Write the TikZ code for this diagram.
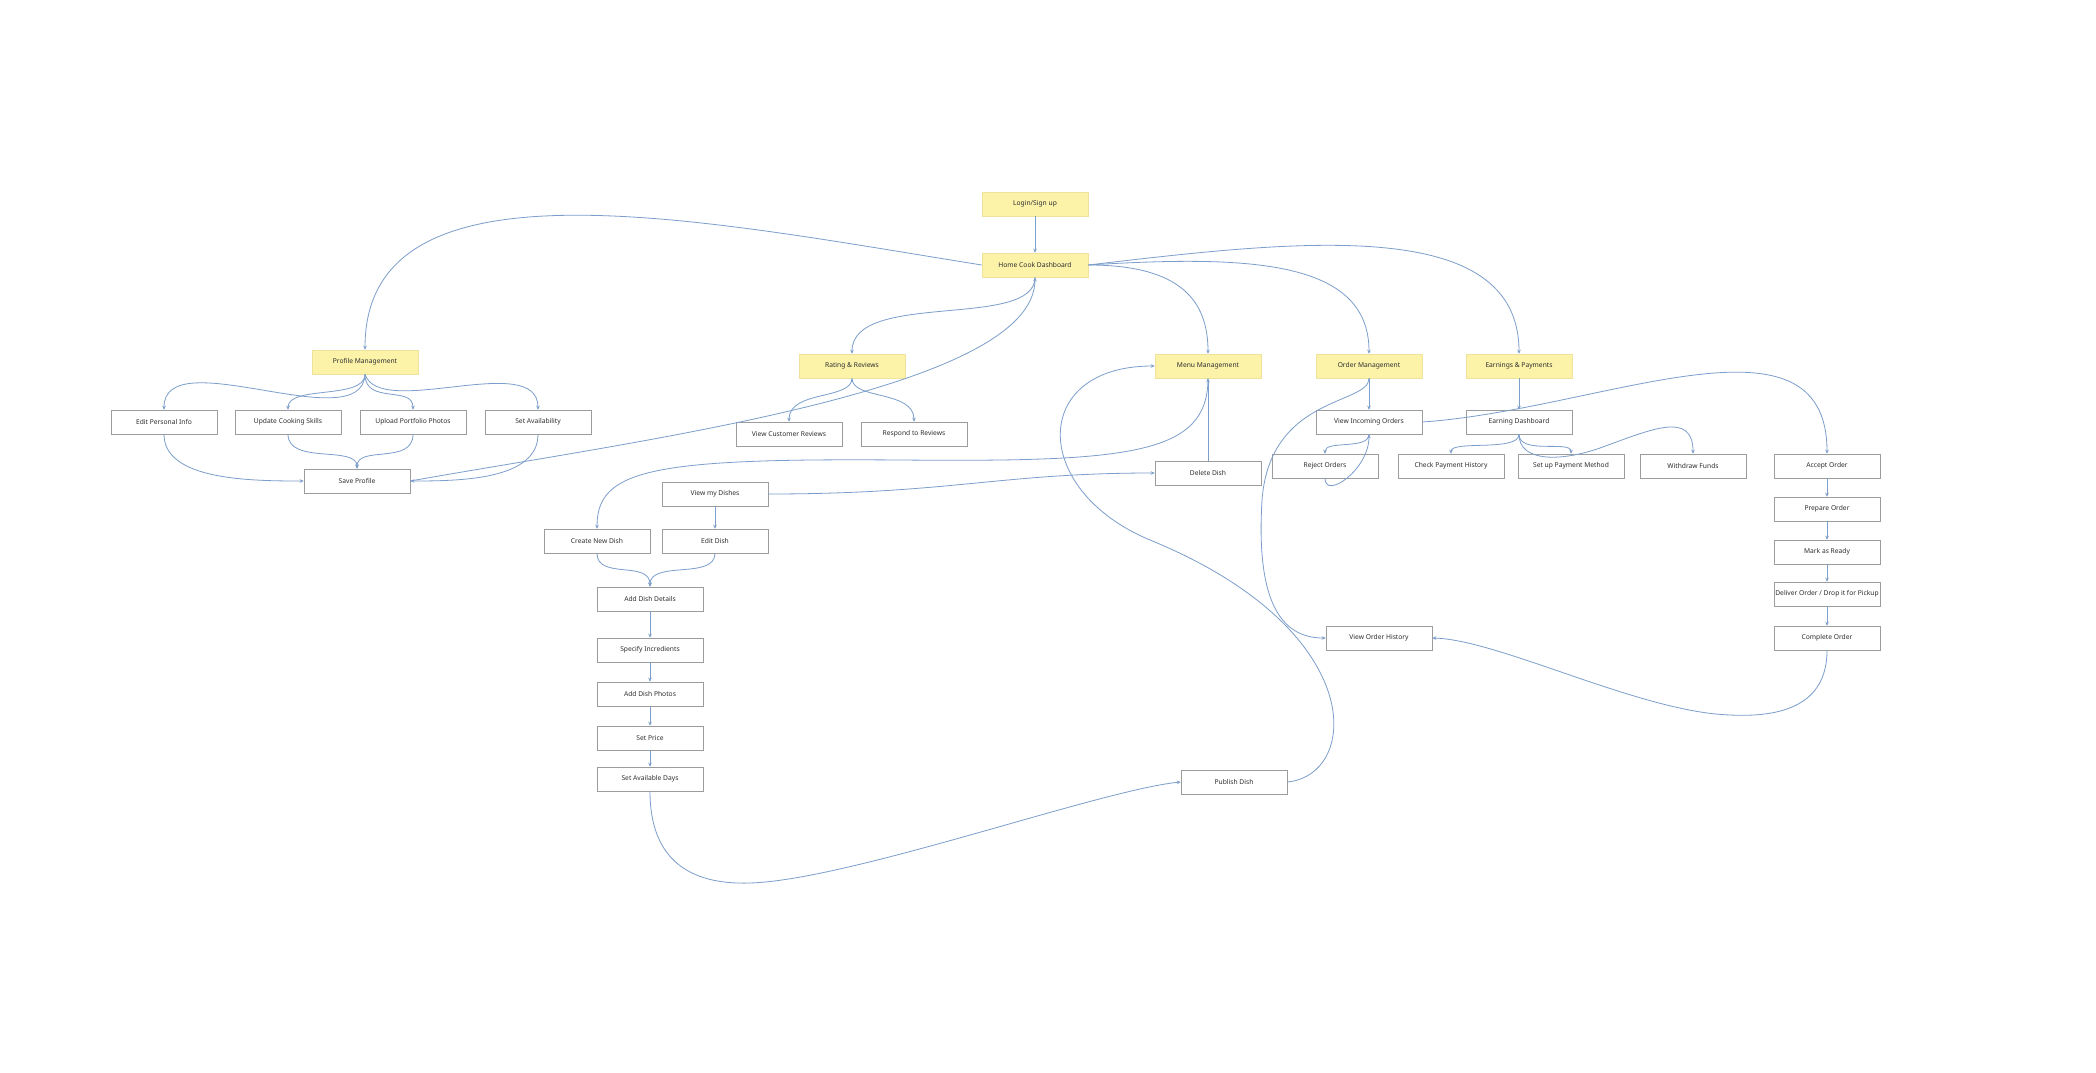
\documentclass[tikz,border=0pt]{standalone}
\usepackage{fontspec}
\setmainfont{Noto Sans}
\usetikzlibrary{arrows.meta}
\definecolor{paleyellow}{HTML}{FCF3A9}
\definecolor{yellowline}{HTML}{EEE29C}
\definecolor{boxgray}{HTML}{9C9C9C}
\definecolor{flowblue}{HTML}{7C9ECB}
\definecolor{inkgray}{HTML}{2E2E2E}

\begin{document}
\begin{tikzpicture}[x=1pt, y=-1pt, >={Stealth[length=4pt,width=3.6pt]},
  hub/.style={rectangle, fill=paleyellow, draw=yellowline, line width=0.6pt,
    minimum width=106pt, minimum height=24pt, inner xsep=1pt,
    text=inkgray, font=\fontsize{6.7}{8}\selectfont},
  task/.style={hub, fill=white, draw=boxgray}]
  \fill[white] (0,0) rectangle (2096,1073);
  \useasboundingbox (0,0) rectangle (2096,1073);

  \node[hub] (login) at (1035,204) {Login/Sign up};
  \node[hub] (hcd) at (1035,265) {Home Cook Dashboard};
  \node[hub] (prof) at (365,362) {Profile Management};
  \node[hub] (rate) at (852,366) {Rating \& Reviews};
  \node[hub] (menu) at (1208,366) {Menu Management};
  \node[hub] (order) at (1369,366) {Order Management};
  \node[hub] (earn) at (1519,366) {Earnings \& Payments};

  \node[task] (editinfo) at (164,422) {Edit Personal Info};
  \node[task] (skills) at (288,422) {Update Cooking Skills};
  \node[task] (photos) at (413,422) {Upload Portfolio Photos};
  \node[task] (avail) at (538,422) {Set Availability};
  \node[task] (save) at (357,481) {Save Profile};

  \node[task] (viewrev) at (789,434) {View Customer Reviews};
  \node[task] (respond) at (914,434) {Respond to Reviews};

  \node[task] (mydishes) at (715,494) {View my Dishes};
  \node[task] (newdish) at (597,541) {Create New Dish};
  \node[task] (editdish) at (715,541) {Edit Dish};
  \node[task] (details) at (650,599) {Add Dish Details};
  \node[task] (ingred) at (650,650) {Specify Incredients};
  \node[task] (dishphotos) at (650,694) {Add Dish Photos};
  \node[task] (price) at (650,738) {Set Price};
  \node[task] (days) at (650,779) {Set Available Days};
  \node[task] (publish) at (1234,782) {Publish Dish};
  \node[task] (delete) at (1208,473) {Delete Dish};

  \node[task] (incoming) at (1369,422) {View Incoming Orders};
  \node[task] (reject) at (1325,466) {Reject Orders};
  \node[task] (orderhist) at (1379,638) {View Order History};

  \node[task] (dashboard) at (1519,422) {Earning Dashboard};
  \node[task] (history) at (1451,466) {Check Payment History};
  \node[task] (paymethod) at (1571,466) {Set up Payment Method};
  \node[task] (withdraw) at (1693,466) {Withdraw Funds};

  \node[task] (accept) at (1827,466) {Accept Order};
  \node[task] (prepare) at (1827,509) {Prepare Order};
  \node[task] (ready) at (1827,552) {Mark as Ready};
  \node[task] (deliver) at (1827,594) {Deliver Order / Drop it for Pickup};
  \node[task] (complete) at (1827,638) {Complete Order};

  \begin{scope}[->, flowblue, line width=0.8pt]
    \draw (login) -- (hcd);
    \draw (hcd.west) .. controls (700,220) and (365,150) .. (prof.north);
    \draw (hcd.south) .. controls (1035,330) and (852,290) .. (rate.north);
    \draw (hcd.east) .. controls (1180,265) and (1208,300) .. (menu.north);
    \draw (hcd.east) .. controls (1250,255) and (1369,260) .. (order.north);
    \draw (hcd.east) .. controls (1300,240) and (1519,215) .. (earn.north);

    \draw (prof.south) .. controls (362,440) and (164,340) .. (editinfo.north);
    \draw (prof.south) .. controls (365,400) and (288,385) .. (skills.north);
    \draw (prof.south) .. controls (365,405) and (413,385) .. (photos.north);
    \draw (prof.south) .. controls (380,420) and (538,350) .. (avail.north);
    \draw (editinfo.south) .. controls (164,480) and (250,481) .. (save.west);
    \draw (skills.south) .. controls (288,465) and (357,445) .. (save.north);
    \draw (photos.south) .. controls (413,465) and (357,445) .. (save.north);
    \draw (avail.south) .. controls (538,480) and (460,481) .. (save.east);
    \draw (save.east) .. controls (640,440) and (1035,390) .. (hcd.south);

    \draw (rate.south) .. controls (852,400) and (789,390) .. (viewrev.north);
    \draw (rate.south) .. controls (852,400) and (914,390) .. (respond.north);

    \draw (menu.south) .. controls (1208,455) and (1130,462) .. (900,460)
      .. controls (650,458) and (597,470) .. (newdish.north);
    \draw (delete) -- (menu);
    \draw (mydishes.east) .. controls (950,494) and (1000,473) .. (delete.west);
    \draw (mydishes) -- (editdish);
    \draw (newdish.south) .. controls (597,580) and (650,560) .. (details.north);
    \draw (editdish.south) .. controls (715,580) and (650,560) .. (details.north);
    \draw (details) -- (ingred);
    \draw (ingred) -- (dishphotos);
    \draw (dishphotos) -- (price);
    \draw (price) -- (days);
    \draw (days.south) .. controls (650,860) and (690,885) .. (750,883)
      .. controls (850,880) and (1100,790) .. (publish.west);
    \draw (publish.east) .. controls (1360,775) and (1370,630) .. (1150,540)
      .. controls (1030,490) and (1030,366) .. (menu.west);

    \draw (order) -- (incoming);
    \draw (order.south) .. controls (1369,405) and (1270,395) .. (1262,500)
      .. controls (1256,600) and (1280,638) .. (orderhist.west);
    \draw (incoming.south) .. controls (1369,450) and (1325,440) .. (reject.north);
    \draw (reject.south) .. controls (1325,500) and (1369,470) .. (incoming.south);
    \draw (incoming.east) .. controls (1600,410) and (1827,300) .. (accept.north);

    \draw (earn) -- (dashboard);
    \draw (dashboard.south) .. controls (1519,452) and (1451,440) .. (history.north);
    \draw (dashboard.south) .. controls (1519,455) and (1571,440) .. (paymethod.north);
    \draw (dashboard.south) .. controls (1519,462) and (1560,462) .. (1600,448)
      .. controls (1650,430) and (1693,410) .. (withdraw.north);

    \draw (accept) -- (prepare);
    \draw (prepare) -- (ready);
    \draw (ready) -- (deliver);
    \draw (deliver) -- (complete);
    \draw (complete.south) .. controls (1827,700) and (1790,718) .. (1730,715)
      .. controls (1640,712) and (1500,640) .. (orderhist.east);
  \end{scope}
\end{tikzpicture}
\end{document}
